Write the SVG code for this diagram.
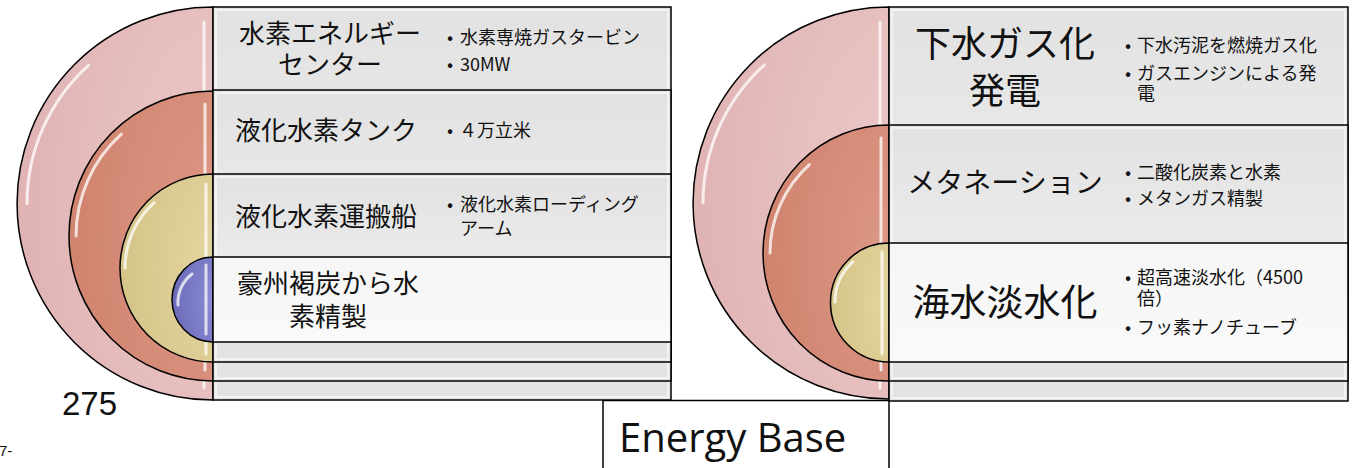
<svg xmlns="http://www.w3.org/2000/svg" width="1358" height="468" viewBox="0 0 1358 468">
<style>
.edge{stroke:#000;stroke-width:1.5}
.row{fill:url(#gRow);stroke:#000;stroke-width:1.5}
.rowIn{fill:url(#gRowIn);stroke:#000;stroke-width:1.5}
.bevel{fill:none;stroke:#fff;stroke-width:2;opacity:.55}
.hl{fill:none;stroke:#fff;stroke-width:3;stroke-linecap:round;opacity:.75}
.t{font-family:"Noto Sans CJK JP","Noto Sans",sans-serif;fill:#111}
.b{font-family:"Noto Sans CJK JP","Noto Sans",sans-serif;font-size:18px;fill:#111}
</style>
<defs>
<radialGradient id="gPink" cx="1" cy="0.5" r="1"><stop offset="0" stop-color="#ecc9c9"/><stop offset="1" stop-color="#e0b3b3"/></radialGradient>
<radialGradient id="gSalmon" cx="1" cy="0.5" r="1"><stop offset="0" stop-color="#dc9886"/><stop offset="1" stop-color="#d0836e"/></radialGradient>
<radialGradient id="gKhaki" cx="1" cy="0.5" r="1"><stop offset="0" stop-color="#e4d6a0"/><stop offset="1" stop-color="#d5c488"/></radialGradient>
<radialGradient id="gBlue" cx="1" cy="0.5" r="1"><stop offset="0" stop-color="#8c8cd4"/><stop offset="1" stop-color="#6a6ab8"/></radialGradient>
<linearGradient id="gRow" x1="0" y1="0" x2="0" y2="1"><stop offset="0" stop-color="#e2e2e2"/><stop offset=".5" stop-color="#ebebeb"/><stop offset="1" stop-color="#e2e2e2"/></linearGradient>
<linearGradient id="gRowIn" x1="0" y1="0" x2="0" y2="1"><stop offset="0" stop-color="#f6f6f6"/><stop offset="1" stop-color="#f9f9f9"/></linearGradient>
</defs>
<rect width="1358" height="468" fill="#fff"/>

<g id="energy-base">
<rect x="603" y="400.5" width="286" height="80" fill="#fff" class="edge"/>
<text x="619" y="452" font-family="'Open Sans','Noto Sans',sans-serif" font-size="40" fill="#111">Energy Base</text>
</g>

<g id="page-labels">
<text x="62" y="415" font-family="'Liberation Sans',Arial,sans-serif" font-size="33" fill="#111">275</text>
<text x="-1" y="456" font-family="'Liberation Sans',Arial,sans-serif" font-size="15" fill="#111">7-</text>
</g>

<!-- LEFT DIAGRAM -->
<g id="left-1">
<path d="M213,7 A196,196.5 0 0 0 213,400 Z" fill="url(#gPink)" class="edge"/>
<path class="hl" d="M27,203.5 A186,186 0 0 1 88.5,65.3"/>
<line class="hl" x1="204" y1="22" x2="204" y2="388"/>
<rect x="213" y="7" width="458" height="393" class="row"/>
<rect x="216" y="10" width="452" height="387" class="bevel"/>
<text class="t" font-size="26" text-anchor="middle"><tspan x="330" y="43">水素エネルギー</tspan><tspan x="330" y="74">センター</tspan></text>
<text class="b"><tspan x="447" y="44">•</tspan><tspan x="460" y="44">水素専焼ガスタービン</tspan></text>
<text class="b"><tspan x="447" y="71">•</tspan><tspan x="460" y="71">30MW</tspan></text>
</g>

<g id="left-2">
<path d="M213,91 A144,145 0 0 0 213,381 Z" fill="url(#gSalmon)" class="edge"/>
<path class="hl" d="M76,236 A137,137 0 0 1 121.3,134.2"/>
<line class="hl" x1="205" y1="104" x2="205" y2="370"/>
<rect x="213" y="90" width="458" height="291" class="row"/>
<rect x="216" y="93" width="452" height="285" class="bevel"/>
<text class="t" font-size="26" x="235" y="140">液化水素タンク</text>
<text class="b"><tspan x="447" y="137">•</tspan><tspan x="459" y="137">４万立米</tspan></text>
</g>

<g id="left-3">
<path d="M213,174 A93,94 0 0 0 213,362 Z" fill="url(#gKhaki)" class="edge"/>
<path class="hl" d="M125,268 A88,88 0 0 1 154.1,202.6"/>
<line class="hl" x1="206" y1="184" x2="206" y2="354"/>
<rect x="213" y="174" width="458" height="188" class="row"/>
<rect x="216" y="177" width="452" height="182" class="bevel"/>
<text class="t" font-size="26" x="235" y="226">液化水素運搬船</text>
<text class="b"><tspan x="447" y="211">•</tspan><tspan x="460" y="211">液化水素ローディング</tspan><tspan x="460" y="235">アーム</tspan></text>
</g>

<g id="left-4">
<path d="M213,257 A41,42.5 0 0 0 213,342 Z" fill="url(#gBlue)" class="edge"/>
<path class="hl" d="M178,305 A36,36 0 0 1 192,274" stroke-width="4"/>
<line class="hl" x1="206" y1="265" x2="206" y2="334"/>
<rect x="213" y="257" width="458" height="85" class="rowIn"/>
<text class="t" font-size="26" text-anchor="middle"><tspan x="328" y="293">豪州褐炭から水</tspan><tspan x="328" y="326">素精製</tspan></text>
</g>

<!-- RIGHT DIAGRAM -->
<g id="right-1">
<path d="M889,7 A196,196 0 0 0 889,399 Z" fill="url(#gPink)" class="edge"/>
<path class="hl" d="M703,203 A186,186 0 0 1 764.5,64.8"/>
<line class="hl" x1="880" y1="22" x2="880" y2="388"/>
<rect x="889" y="7" width="459" height="394" class="row"/>
<rect x="892" y="10" width="453" height="388" class="bevel"/>
<text class="t" font-size="36" text-anchor="middle"><tspan x="1005" y="57">下水ガス化</tspan><tspan x="1005" y="104">発電</tspan></text>
<text class="b"><tspan x="1125" y="52">•</tspan><tspan x="1137" y="52">下水汚泥を燃焼ガス化</tspan></text>
<text class="b"><tspan x="1125" y="80">•</tspan><tspan x="1137" y="80">ガスエンジンによる発</tspan><tspan x="1137" y="100">電</tspan></text>
</g>

<g id="right-2">
<path d="M889,125 A126,128 0 0 0 889,381 Z" fill="url(#gSalmon)" class="edge"/>
<path class="hl" d="M770,253 A119,119 0 0 1 809.4,164.6"/>
<line class="hl" x1="881" y1="138" x2="881" y2="370"/>
<rect x="889" y="125" width="459" height="256" class="row"/>
<rect x="892" y="128" width="453" height="250" class="bevel"/>
<text class="t" font-size="28" text-anchor="middle" x="1005" y="193">メタネーション</text>
<text class="b"><tspan x="1125" y="179">•</tspan><tspan x="1137" y="179">二酸化炭素と水素</tspan></text>
<text class="b"><tspan x="1125" y="205">•</tspan><tspan x="1137" y="205">メタンガス精製</tspan></text>
</g>

<g id="right-3">
<path d="M889,243 A58.5,59.5 0 0 0 889,362 Z" fill="url(#gKhaki)" class="edge"/>
<path class="hl" d="M835,302 A54,54 0 0 1 852.9,261.9"/>
<line class="hl" x1="882" y1="252" x2="882" y2="354"/>
<rect x="889" y="243" width="459" height="119" class="rowIn"/>
<text class="t" font-size="37" text-anchor="middle" x="1005" y="316">海水淡水化</text>
<text class="b"><tspan x="1125" y="284">•</tspan><tspan x="1137" y="284">超高速淡水化（4500</tspan><tspan x="1137" y="305">倍）</tspan></text>
<text class="b"><tspan x="1125" y="334">•</tspan><tspan x="1137" y="334">フッ素ナノチューブ</tspan></text>
</g>
</svg>
